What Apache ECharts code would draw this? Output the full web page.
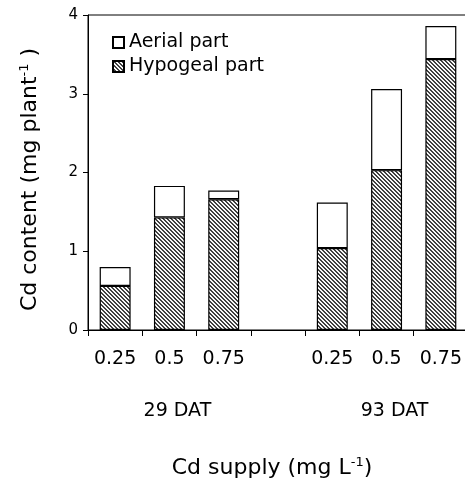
<!DOCTYPE html>
<html>
<head>
<meta charset="utf-8">
<script src="https://cdn.jsdelivr.net/npm/echarts@6/dist/echarts.min.js"></script>
<style>
  html, body { margin: 0; padding: 0; background: #fff; }
  #chart { width: 465px; height: 484px; }
</style>
</head>
<body>
<div id="chart"></div>
<script>
// Cd supply per slot (empty slot separates the two sampling dates)
var supplyLabels = ['0.25', '0.5', '0.75', '', '0.25', '0.5', '0.75'];
var dateLabels = ['', '29 DAT', '', '', '', '93 DAT', ''];
// Cd content, mg plant-1
var hypogeal = [0.56, 1.43, 1.66, '-', 1.04, 2.03, 3.44];
var aerial = [0.24, 0.40, 0.11, '-', 0.58, 1.03, 0.42];
var yTicks = [0, 1, 2, 3, 4];

var FONT = 'DejaVu Sans';

// fine diagonal hatching like the original figure
function hatch() {
    var c = document.createElement('canvas');
    c.width = 4; c.height = 4;
    var ctx = c.getContext('2d');
    ctx.fillStyle = '#f8f8f8';
    ctx.fillRect(0, 0, 4, 4);
    ctx.fillStyle = '#404040';
    for (var x = 0; x < 4; x++) {
        for (var y = 0; y < 4; y++) {
            if ((((x - y) % 4) + 4) % 4 < 2) ctx.fillRect(x, y, 1, 1);
        }
    }
    return c;
}

var myChart = echarts.init(document.getElementById('chart'));

var supStyle = { fontSize: 13, verticalAlign: 'top', padding: [0, 0, 11, 0] };

var option = {
    animation: false,
    textStyle: { fontFamily: FONT, color: '#000' },
    grid: {
        left: 88, top: 15, right: -3, bottom: 154,
        show: true, borderColor: '#000', borderWidth: 1,
        backgroundColor: 'transparent',
        outerBoundsMode: 'none'
    },
    legend: {
        orient: 'vertical',
        left: 107, top: 28,
        icon: 'rect',
        itemWidth: 11, itemHeight: 11,
        itemGap: 5,
        data: ['Aerial part', 'Hypogeal part'],
        textStyle: { fontFamily: FONT, fontSize: 19, color: '#000' }
    },
    xAxis: [
        {
            type: 'category',
            data: supplyLabels,
            position: 'bottom',
            axisLine: { lineStyle: { color: '#000', width: 1 } },
            axisTick: { show: true, length: 6, lineStyle: { color: '#000' } },
            axisLabel: { margin: 20, fontSize: 19, color: '#000', fontFamily: FONT, interval: 0 },
            name: 'Cd supply (mg L{sup|-1})',
            nameLocation: 'middle',
            nameGap: 126,
            nameTextStyle: {
                fontSize: 22, color: '#000', fontFamily: FONT, padding: [0, 12, 0, 0],
                rich: { sup: supStyle }
            }
        },
        {
            type: 'category',
            data: dateLabels,
            position: 'bottom',
            axisLine: { show: false },
            axisTick: { show: false },
            axisLabel: {
                margin: 72, fontSize: 19, color: '#000', fontFamily: FONT,
                interval: 0, padding: [0, 0, 0, 16]
            }
        }
    ],
    yAxis: {
        type: 'value',
        min: yTicks[0], max: yTicks[yTicks.length - 1], interval: 1,
        axisLine: { show: true, lineStyle: { color: '#000', width: 1 } },
        axisTick: { show: true, length: 5, lineStyle: { color: '#000' } },
        splitLine: { show: false },
        axisLabel: { margin: 10, fontSize: 15, color: '#000', fontFamily: FONT },
        name: 'Cd content (mg plant{sup|-1} )',
        nameLocation: 'middle',
        nameRotate: 90,
        nameGap: 46,
        nameTextStyle: {
            fontSize: 22, color: '#000', fontFamily: FONT, padding: [0, 14, 0, 0],
            rich: { sup: supStyle }
        }
    },
    series: [
        {
            name: 'Hypogeal part',
            type: 'bar',
            stack: 'cd',
            barWidth: '57%',
            data: hypogeal,
            itemStyle: {
                color: { image: hatch(), repeat: 'repeat' },
                borderColor: '#000', borderWidth: 1.2
            }
        },
        {
            name: 'Aerial part',
            type: 'bar',
            stack: 'cd',
            barWidth: '57%',
            data: aerial,
            itemStyle: { color: '#fff', borderColor: '#000', borderWidth: 1.2 }
        }
    ]
};

myChart.setOption(option);
</script>
</body>
</html>
